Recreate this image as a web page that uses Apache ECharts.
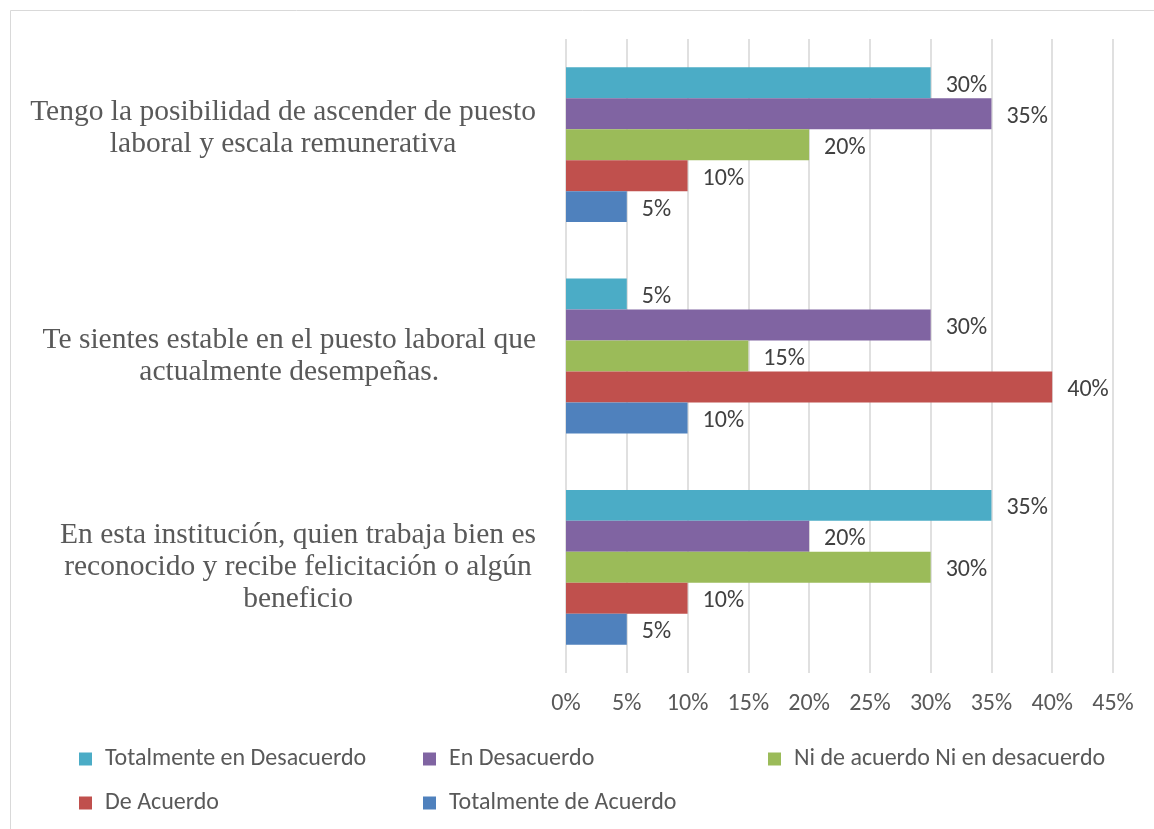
<!DOCTYPE html>
<html>
<head>
<meta charset="utf-8">
<style>
  html, body { margin: 0; padding: 0; background: #ffffff; }
  #chart { width: 1154px; height: 829px; }
</style>
<script src="https://cdn.jsdelivr.net/npm/echarts@6/dist/echarts.min.js"></script>
</head>
<body>
<div id="chart"></div>
<script>
// Survey statements (line breaks as wrapped on the axis)
const categories = [
  'Tengo la posibilidad de ascender de puesto\nlaboral y escala remunerativa\n',
  'Te sientes estable en el puesto laboral que\nactualmente desempeñas.',
  'En esta institución, quien trabaja bien es\nreconocido y recibe felicitación o algún\nbeneficio'
];

const seriesNames = [
  'Totalmente en Desacuerdo',
  'En Desacuerdo',
  'Ni de acuerdo Ni en desacuerdo',
  'De Acuerdo',
  'Totalmente de Acuerdo'
];

// Percentages per statement, in the order of `categories`
const totalmenteDesacuerdo = [30, 5, 35];
const enDesacuerdo = [35, 30, 20];
const niAcuerdoNiDesacuerdo = [20, 15, 30];
const deAcuerdo = [10, 40, 10];
const totalmenteAcuerdo = [5, 10, 5];

const xTicks = { min: 0, max: 45, interval: 5 };

const seriesValues = [totalmenteDesacuerdo, enDesacuerdo, niAcuerdoNiDesacuerdo, deAcuerdo, totalmenteAcuerdo];
const colors = ['#4BACC6', '#8064A2', '#9BBB59', '#C0504D', '#4F81BD'];

const sansFont = 'Carlito, Lato, "Liberation Sans", sans-serif';
const serifFont = '"Liberation Serif", "Times New Roman", serif';
const textGray = '#595959';

// Legend laid out as a 3-column grid
const legendSlots = [
  { left: 79, top: 747 },
  { left: 423, top: 747 },
  { left: 768, top: 747 },
  { left: 79, top: 791 },
  { left: 423, top: 791 }
];

const chart = echarts.init(document.getElementById('chart'), null, { renderer: 'canvas' });

const option = {
  backgroundColor: '#ffffff',
  animation: false,
  graphic: [{
    type: 'rect',
    shape: { x: 10.5, y: 10.5, width: 1200, height: 900 },
    style: { fill: 'none', stroke: '#d9d9d9', lineWidth: 1 },
    silent: true,
    z: -1
  }],
  grid: { left: 566, right: 41, top: 39, bottom: 156, containLabel: false },
  legend: seriesNames.map((name, i) => ({
    data: [name],
    left: legendSlots[i].left,
    top: legendSlots[i].top,
    padding: 0,
    itemWidth: 13,
    itemHeight: 13,
    icon: 'rect',
    selectedMode: false,
    textStyle: {
      fontFamily: sansFont,
      fontSize: 24,
      color: textGray,
      padding: [0, 0, 0, 8]
    }
  })),
  xAxis: {
    type: 'value',
    min: xTicks.min,
    max: xTicks.max,
    interval: xTicks.interval,
    axisLine: { show: false },
    axisTick: { show: false },
    splitLine: { show: true, lineStyle: { color: '#d9d9d9', width: 1.6 } },
    axisLabel: {
      formatter: '{value}%',
      fontFamily: sansFont,
      fontSize: 24,
      color: textGray,
      margin: 19
    }
  },
  yAxis: {
    type: 'category',
    inverse: true,
    data: categories,
    axisLine: { show: false },
    axisTick: { show: false },
    axisLabel: {
      align: 'right',
      margin: 30,
      fontFamily: serifFont,
      fontSize: 29.5,
      lineHeight: 32,
      color: textGray,
      formatter: (value) => value.split('\n').map(l => '{c|' + (l || ' ') + '}').join('\n'),
      rich: {
        c: {
          align: 'center',
          fontFamily: serifFont,
          fontSize: 29.5,
          lineHeight: 32,
          color: textGray
        }
      }
    }
  },
  series: seriesNames.map((name, i) => ({
    name: name,
    type: 'bar',
    data: seriesValues[i],
    barGap: '0%',
    barCategoryGap: '26.7%',
    itemStyle: { color: colors[i] },
    label: {
      show: true,
      position: 'right',
      distance: 15,
      offset: [0, 3],
      formatter: '{c}%',
      fontFamily: sansFont,
      fontSize: 24,
      color: '#404040'
    }
  }))
};

chart.setOption(option);
</script>
</body>
</html>
